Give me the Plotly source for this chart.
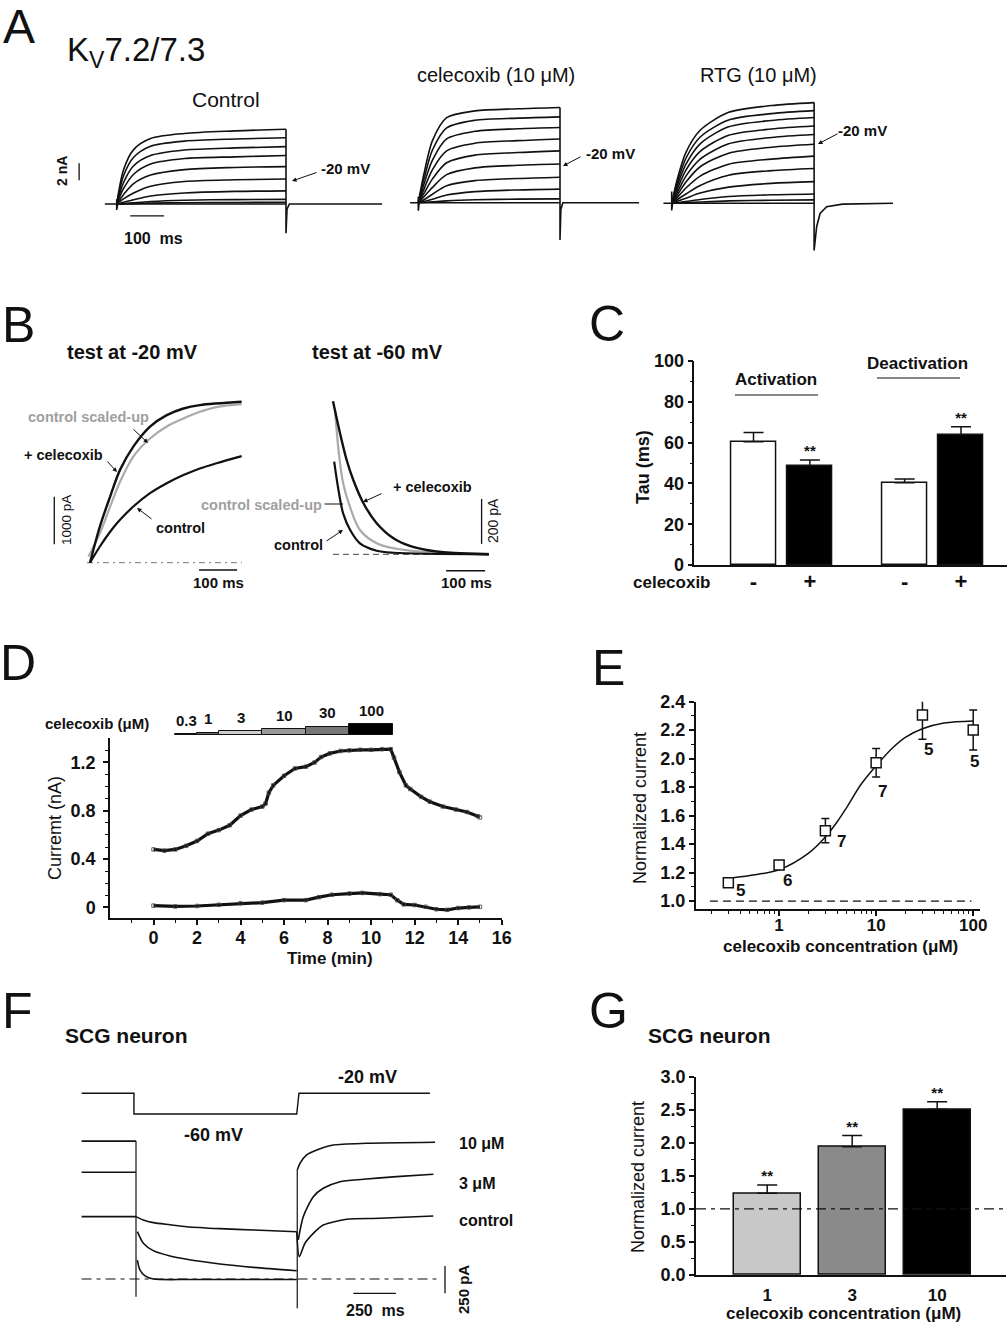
import math
import plotly.graph_objects as go

W, H = 1007, 1325
FONT = "Liberation Sans, Arial, Helvetica, sans-serif"
INK = "#111111"

# ---------------- A: Kv7.2/7.3 current families (nA vs ms) ----------------
A_T = [0, 20, 50, 100, 200, 350, 500]
A_CONTROL = [
    [0, 4.0, 6.4, 7.7, 8.3, 8.6, 8.8],
    [0, 3.3, 5.5, 6.8, 7.4, 7.65, 7.8],
    [0, 2.5, 4.5, 5.7, 6.35, 6.6, 6.75],
    [0, 1.8, 3.5, 4.7, 5.35, 5.55, 5.7],
    [0, 1.1, 2.4, 3.4, 4.05, 4.3, 4.4],
    [0, 0.6, 1.3, 2.1, 2.65, 2.85, 2.95],
    [0, 0.2, 0.5, 0.95, 1.3, 1.48, 1.55],
    [0, 0.05, 0.15, 0.3, 0.45, 0.52, 0.55],
    [0, 0.02, 0.05, 0.1, 0.15, 0.18, 0.2],
]
A_CELECOXIB = [
    [0, 3.4, 7.3, 10.0, 10.8, 11.05, 11.2],
    [0, 2.8, 6.2, 8.8, 9.7, 9.95, 10.1],
    [0, 2.2, 5.0, 7.5, 8.4, 8.7, 8.85],
    [0, 1.6, 3.9, 6.1, 7.0, 7.3, 7.5],
    [0, 1.1, 2.8, 4.7, 5.6, 5.9, 6.1],
    [0, 0.7, 1.8, 3.3, 4.1, 4.4, 4.55],
    [0, 0.35, 1.0, 2.0, 2.6, 2.85, 3.0],
    [0, 0.15, 0.4, 0.9, 1.3, 1.5, 1.6],
    [0, 0.03, 0.1, 0.22, 0.35, 0.42, 0.45],
]
A_RTG = [
    [0, 2.9, 6.0, 8.6, 10.7, 11.5, 11.85],
    [0, 2.5, 5.3, 7.8, 9.8, 10.55, 10.9],
    [0, 2.1, 4.6, 7.0, 9.0, 9.75, 10.1],
    [0, 1.7, 3.9, 6.1, 8.0, 8.75, 9.1],
    [0, 1.3, 3.2, 5.2, 7.0, 7.75, 8.1],
    [0, 1.0, 2.5, 4.3, 5.9, 6.6, 6.95],
    [0, 0.7, 1.8, 3.2, 4.6, 5.2, 5.55],
    [0, 0.45, 1.1, 2.1, 3.3, 3.85, 4.1],
    [0, 0.25, 0.6, 1.2, 1.9, 2.35, 2.55],
    [0, 0.08, 0.2, 0.45, 0.8, 1.0, 1.1],
    [0, 0.03, 0.07, 0.15, 0.28, 0.36, 0.4],
]
# holding level, on/off transients and step edge
A_CONTROL_BASE_T = [-35, 0, 0, 0, 3, 500, 500, 500, 503, 510, 784]
A_CONTROL_BASE_I = [0, 0, 0.55, -0.7, 0, 0, 8.8, -3.45, -0.6, 0, 0]
A_CELECOXIB_BASE_T = [-29, 0, 0, 0, 3, 500, 500, 500, 503, 510, 779]
A_CELECOXIB_BASE_I = [0, 0, 0.7, -0.95, 0, 0, 11.2, -4.4, -0.8, 0, 0]
A_RTG_BASE_T = [-29, 0, 0, 0, 3, 500, 500, 500, 509, 521, 544, 600, 777]
A_RTG_BASE_I = [0, 0, 1.4, -0.85, 0, 0, 11.85, -5.55, -2.75, -1.2, -0.4, -0.1, 0]

# ---------------- B: activation / deactivation (pA vs ms) ----------------
B_ACT_CEL_T = [0, 26, 53, 79, 114, 158, 202, 246, 289, 399]
B_ACT_CEL = [0, 760, 1390, 1950, 2440, 2860, 3100, 3240, 3310, 3380]
B_ACT_SCALED_T = [-4, 26, 53, 79, 114, 158, 202, 246, 289, 333, 399]
B_ACT_SCALED = [130, 620, 1180, 1700, 2230, 2610, 2860, 3030, 3170, 3270, 3330]
B_ACT_CTL_T = [0, 26, 53, 79, 114, 158, 202, 246, 289, 333, 399]
B_ACT_CTL = [0, 340, 650, 900, 1180, 1460, 1670, 1840, 1980, 2090, 2240]

B_DEACT_CEL_T = [0, 18, 35, 52, 78, 112, 155, 197, 240, 283, 400]
B_DEACT_CEL = [680, 538, 419, 330, 227, 138, 71, 37, 19, 9, 0]
B_DEACT_SCALED_T = [5, 16, 26, 42, 69, 116, 197, 400]
B_DEACT_SCALED = [641, 434, 316, 219, 108, 46, 16, 2]
B_DEACT_CTL_T = [3, 14, 26, 44, 69, 112, 155, 400]
B_DEACT_CTL = [412, 286, 182, 108, 49, 16, 7, 0]

# ---------------- C: time constants ----------------
C_POS = [1, 2, 3.68, 4.68]
C_TICKS = ["-", "+", "-", "+"]
C_TAU = [60.4, 48.7, 40.3, 63.9]
C_ERR = [4.5, 2.8, 1.8, 3.9]
C_STARS = ["", "**", "", "**"]

# ---------------- D: time course ----------------
D_T_UP = [0, 0.5, 1.0, 1.5, 2.0, 2.5, 3.0, 3.5, 4.0, 4.5, 5.0, 5.15, 5.3, 5.5, 6.0,
          6.5, 7.0, 7.4, 7.7, 8.1, 8.6, 9.0, 9.5, 10.0, 10.5, 10.9, 11.05, 11.3,
          11.6, 11.8, 12.3, 12.7, 13.3, 13.9, 14.4, 14.9, 15.0]
D_I_UP = [0.48, 0.47, 0.48, 0.51, 0.55, 0.61, 0.64, 0.68, 0.76, 0.81, 0.835, 0.86,
          0.95, 1.01, 1.09, 1.15, 1.165, 1.20, 1.245, 1.275, 1.295, 1.30, 1.305,
          1.305, 1.31, 1.31, 1.24, 1.12, 1.01, 0.98, 0.915, 0.875, 0.835, 0.81,
          0.79, 0.755, 0.745]
D_T_LO = [0, 1, 2, 3, 4, 5, 6, 7, 7.6, 8.2, 9, 9.6, 10.4, 10.9, 11.2, 11.5, 12,
          12.5, 13, 13.5, 14, 14.5, 15]
D_I_LO = [0.015, 0.008, 0.012, 0.022, 0.035, 0.04, 0.06, 0.06, 0.085, 0.105, 0.115,
          0.12, 0.11, 0.105, 0.06, 0.025, 0.02, 0.005, -0.015, -0.02, -0.005, 0.0, 0.005]
D_CONC = ["0.3", "1", "3", "10", "30", "100"]
D_CONC_START = [1, 2, 3, 5, 7, 9]
D_CONC_END = [2, 3, 5, 7, 9, 11]
D_CONC_LEVEL = [0.8, 2.3, 3.7, 5.7, 8.3, 11]
D_CONC_COLOR = ["white", "#666666", "#cccccc", "#999999", "#777777", "#000000"]

# ---------------- E: concentration-response ----------------
E_CONC = [0.3, 1, 3, 10, 30, 100]
E_MEAN = [1.128, 1.253, 1.494, 1.971, 2.306, 2.201]
E_ERR = [0.02, 0.012, 0.085, 0.1, 0.17, 0.14]
E_N = [5, 6, 7, 7, 5, 5]
E_FIT_C = [0.3, 0.5, 1, 2, 3, 4, 5, 7, 10, 15, 20, 30, 50, 100]
E_FIT_Y = [1.16, 1.18, 1.22, 1.335, 1.45, 1.56, 1.66, 1.82, 1.95, 2.08, 2.15, 2.21, 2.25, 2.265]

# ---------------- F: SCG neuron currents (pA vs ms) ----------------
F_PROT_T = [-318, -12, -12, 940, 953, 1719]
F_PROT_V = [-20, -20, -60, -60, -20, -20]
F_PRE_T = [-318, 0]
F10_PRE = [1265, 1265]
F3_PRE = [979, 979]
FC_PRE = [572, 572]
F10_STEP_T = [8, 23, 53, 101, 300, 600, 940]
F10_STEP = [174, 83, 28, 0, -5, -5, -5]
F3_STEP_T = [8, 43, 101, 199, 296, 491, 686, 940]
F3_STEP = [434, 328, 260, 211, 181, 138, 107, 76]
FC_STEP_T = [0, 43, 101, 199, 296, 491, 686, 940]
FC_STEP = [572, 541, 517, 498, 480, 462, 450, 434]
F10_POST_T = [943, 959, 998, 1057, 1154, 1349, 1749]
F10_POST = [1000, 1061, 1138, 1183, 1229, 1245, 1254]
F3_POST_T = [949, 978, 1037, 1095, 1193, 1329, 1524, 1739]
F3_POST = [358, 572, 755, 832, 893, 915, 939, 961]
FC_POST_T = [940, 955, 988, 1037, 1095, 1232, 1427, 1739]
FC_POST = [434, 205, 328, 419, 495, 548, 557, 578]
F_ON_T = [0, 0]
F_ON = [1265, -162]
F_OFF_T = [943, 943]
F_OFF = [-269, 1000]

# ---------------- G: SCG normalized current ----------------
G_POS = [1, 2, 3]
G_CONC = ["1", "3", "10"]
G_VAL = [1.235, 1.94, 2.507]
G_ERR = [0.125, 0.17, 0.115]
G_COLOR = ["#c8c8c8", "#8a8a8a", "#000000"]


def hx(px):
    return px / W


def hy(py):
    return 1 - py / H


def ref(n):
    return ("x", "y") if n == 1 else (f"x{n}", f"y{n}")


def cal(box, x_org, x_scale, y_org, y_scale):
    """pixel box + pixel calibration -> data ranges"""
    x0, y0, x1, y1 = box
    xr = [(x0 - x_org) / x_scale, (x1 - x_org) / x_scale]
    yr = [(y_org - y1) / y_scale, (y_org - y0) / y_scale]
    return xr, yr


layout = {}


def add_axes(n, box, xr, yr, xtype="linear"):
    x0, y0, x1, y1 = box
    xs = "xaxis" if n == 1 else f"xaxis{n}"
    ys = "yaxis" if n == 1 else f"yaxis{n}"
    xa, ya = ref(n)
    layout[xs] = dict(domain=[hx(x0), hx(x1)], range=xr, anchor=ya, visible=False,
                      type=xtype, showgrid=False, zeroline=False, fixedrange=True,
                      automargin=False)
    layout[ys] = dict(domain=[hy(y1), hy(y0)], range=yr, anchor=xa, visible=False,
                      showgrid=False, zeroline=False, fixedrange=True, automargin=False)
    return xs, ys


traces = []


def line(n, x, y, color=INK, width=1.6, shape="linear", dash=None, smoothing=0.9):
    xa, ya = ref(n)
    ln = dict(color=color, width=width, shape=shape)
    if dash:
        ln["dash"] = dash
    if shape == "spline":
        ln["smoothing"] = smoothing
    traces.append(go.Scatter(x=x, y=y, xaxis=xa, yaxis=ya, mode="lines", line=ln,
                             hoverinfo="skip"))


anns = []
shapes = []


def text(x, y, s, size=16, bold=False, color=INK, angle=0, anchor="center"):
    if bold:
        s = f"<b>{s}</b>"
    anns.append(dict(x=hx(x), y=hy(y), xref="paper", yref="paper", text=s,
                     showarrow=False, textangle=angle, xanchor=anchor, yanchor="middle",
                     font=dict(family=FONT, size=size, color=color)))


def arrow(x0, y0, x1, y1, head=2):
    anns.append(dict(x=hx(x1), y=hy(y1), xref="paper", yref="paper", ax=x0 - x1,
                     ay=y0 - y1, text="", showarrow=True, arrowhead=head, arrowsize=0.9,
                     arrowwidth=1, arrowcolor=INK, standoff=0, startstandoff=0))


def hline(x0, x1, y, width=1.2):
    shapes.append(dict(type="line", xref="paper", yref="paper", x0=hx(x0), x1=hx(x1),
                       y0=hy(y), y1=hy(y), line=dict(color=INK, width=width)))


# ======================= Panel A =======================
panels_a = [
    (1, (55, 105, 390, 245), (116.7, 0.3386, 204.0, 8.5), A_CONTROL,
     A_CONTROL_BASE_T, A_CONTROL_BASE_I),
    (2, (400, 95, 645, 255), (418.3, 0.2834, 202.7, 8.5), A_CELECOXIB,
     A_CELECOXIB_BASE_T, A_CELECOXIB_BASE_I),
    (3, (655, 95, 905, 260), (671.7, 0.2848, 203.3, 8.5), A_RTG,
     A_RTG_BASE_T, A_RTG_BASE_I),
]
for n, box, c, fam, bt, bi in panels_a:
    xr, yr = cal(box, *c)
    add_axes(n, box, xr, yr)
    line(n, bt, bi, width=1.6)
    for tr in fam:
        line(n, A_T, tr, width=1.6, shape="spline", smoothing=0.8)

# scale bars (control panel)
line(1, [-111, -111], [2.8, 4.8], width=1.3)
line(1, [40, 140], [-1.4, -1.4], width=1.3)

text(19, 27, "A", size=48)
text(136, 52, "K<sub>V</sub>7.2/7.3", size=33)
text(226, 100, "Control", size=21)
text(496, 75, "celecoxib (10 μM)", size=20)
text(758, 75, "RTG (10 μM)", size=20)
text(62, 171, "2 nA", size=14, bold=True, angle=-90)
text(153, 239, "100  ms", size=16, bold=True)
text(345, 168, "-20 mV", size=15, bold=True)
arrow(318, 172, 292, 181)
text(610, 153, "-20 mV", size=15, bold=True)
arrow(582, 156, 563, 166)
text(862, 131, "-20 mV", size=15, bold=True)
arrow(839, 133, 818, 144)

# ======================= Panel B =======================
box = (20, 390, 250, 600)
xr, yr = cal(box, 90, 0.38, 562.7, 0.0476)
add_axes(4, box, xr, yr)
line(4, [-8, 400], [0, 0], color="#777777", width=1, dash="6px,4px,2px,4px")
line(4, B_ACT_SCALED_T, B_ACT_SCALED, color="#aaaaaa", width=2.2, shape="spline")
line(4, B_ACT_CTL_T, B_ACT_CTL, width=2.2, shape="spline")
line(4, B_ACT_CEL_T, B_ACT_CEL, width=2.4, shape="spline")
line(4, [-94, -94], [387, 1387], width=1.3)
line(4, [287, 387], [-153, -153], width=1.3)

box = (315, 390, 500, 600)
xr, yr = cal(box, 333, 0.39, 554.3, 0.225)
add_axes(5, box, xr, yr)
line(5, [0, 400], [0, 0], color="#444444", width=1, dash="6px,4px")
line(5, B_DEACT_SCALED_T, B_DEACT_SCALED, color="#aaaaaa", width=2.2, shape="spline")
line(5, B_DEACT_CTL_T, B_DEACT_CTL, width=2.2, shape="spline")
line(5, B_DEACT_CEL_T, B_DEACT_CEL, width=2.4, shape="spline")
line(5, [381, 381], [46, 246], width=1.3)
line(5, [290, 390], [-73, -73], width=1.3)

text(18, 325, "B", size=50)
text(132, 352, "test at -20 mV", size=20, bold=True)
text(377, 352, "test at -60 mV", size=20, bold=True)
text(88, 417, "control scaled-up", size=14.5, bold=True, color="#a0a0a0")
arrow(132, 428, 148, 443)
text(63, 455, "+ celecoxib", size=14.5, bold=True)
arrow(106, 460, 117, 472)
text(180, 528, "control", size=14.5, bold=True)
arrow(153, 520, 137, 508)
text(66, 520, "1000 pA", size=13.5, angle=-90)
text(218, 583, "100 ms", size=15, bold=True)
text(432, 487, "+ celecoxib", size=14.5, bold=True)
arrow(383, 493, 363, 502)
text(261, 505, "control scaled-up", size=14.5, bold=True, color="#a0a0a0")
arrow(323, 504, 343, 504, head=0)
text(298, 545, "control", size=14.5, bold=True)
arrow(325, 542, 343, 530)
text(493, 521, "200 pA", size=14, angle=-90)
text(466, 583, "100 ms", size=15, bold=True)

# ======================= common axis style =======================
def shown_axis(**kw):
    d = dict(visible=True, showline=True, linecolor=INK, linewidth=1.5, ticks="outside",
             ticklen=5, tickwidth=1.5, tickcolor=INK, showgrid=False, zeroline=False,
             tickfont=dict(family=FONT, size=18, color=INK, weight="bold"))
    d.update(kw)
    return d


# ======================= Panel C =======================
box = (694.3, 361, 1006.7, 565)
xs, ys = add_axes(6, box, [-0.05, 5.49], [0, 100])
layout[xs].update(shown_axis(ticks="", tickvals=C_POS, ticktext=C_TICKS, ticklabelstandoff=-4,
                             tickfont=dict(family=FONT, size=22, color=INK, weight="bold")))
layout[ys].update(shown_axis(tickvals=[0, 20, 40, 60, 80, 100],
                             minor=dict(ticks="outside", ticklen=3, tickwidth=1.2,
                                        tickcolor=INK, tickvals=[10, 30, 50, 70, 90])))
traces.append(go.Bar(x=C_POS, y=C_TAU, xaxis="x6", yaxis="y6", width=0.8,
                     marker=dict(color=["white", "black", "white", "black"],
                                 line=dict(color=INK, width=1.5)),
                     error_y=dict(type="data", symmetric=False, array=C_ERR,
                                  arrayminus=[0, 0, 0, 0], color=INK, thickness=1.5, width=10),
                     hoverinfo="skip"))
traces.append(go.Scatter(x=C_POS, y=[t + e for t, e in zip(C_TAU, C_ERR)], xaxis="x6",
                         yaxis="y6", mode="text", text=C_STARS, textposition="top center",
                         textfont=dict(family=FONT, size=15, color=INK, weight="bold"),
                         hoverinfo="skip"))
text(607, 324, "C", size=50)
text(643, 467, "Tau (ms)", size=18, bold=True, angle=-90)
text(672, 582, "celecoxib", size=17, bold=True)
text(776, 380, "Activation", size=17, bold=True)
hline(735, 818, 395)
text(917, 363, "Deactivation", size=17, bold=True)
hline(877, 960, 378)

# ======================= Panel D =======================
box = (110, 738.3, 501.7, 918.3)
xs, ys = add_axes(7, box, [-2, 16], [-0.09, 1.40])
layout[xs].update(shown_axis(tickvals=list(range(0, 17, 2)), ticklabelstandoff=-3,
                             minor=dict(ticks="outside", ticklen=3, tickwidth=1.2,
                                        tickcolor=INK, tickvals=list(range(-1, 16, 2)))))
layout[ys].update(shown_axis(tickvals=[0, 0.4, 0.8, 1.2], ticktext=["0", "0.4", "0.8", "1.2"],
                             ticklabelstandoff=4,
                             minor=dict(ticks="outside", ticklen=3, tickwidth=1.2, tickcolor=INK,
                                        tickvals=[0.1, 0.2, 0.3, 0.5, 0.6, 0.7, 0.9, 1.0, 1.1, 1.3])))
for tx, iy in ((D_T_UP, D_I_UP), (D_T_LO, D_I_LO)):
    traces.append(go.Scatter(x=tx, y=iy, xaxis="x7", yaxis="y7", mode="lines+markers",
                             line=dict(color=INK, width=3.2),
                             marker=dict(symbol="square-open", size=3.5, color="#444444",
                                         line=dict(width=0.8)),
                             hoverinfo="skip"))
box = (110, 700, 501.7, 735)
add_axes(8, box, [-2, 16], [0, 35])
centers = [(s + e) / 2 for s, e in zip(D_CONC_START, D_CONC_END)]
widths = [e - s for s, e in zip(D_CONC_START, D_CONC_END)]
traces.append(go.Bar(x=centers, y=D_CONC_LEVEL, width=widths, xaxis="x8", yaxis="y8",
                     marker=dict(color=D_CONC_COLOR, line=dict(color=INK, width=1)),
                     hoverinfo="skip"))
for cx, lv, lab in zip(centers, D_CONC_LEVEL, D_CONC):
    anns.append(dict(x=cx, y=lv, xref="x8", yref="y8", text=f"<b>{lab}</b>",
                     showarrow=False, yanchor="middle", yshift=14,
                     font=dict(family=FONT, size=15, color=INK)))
text(18, 663, "D", size=50)
text(97, 723, "celecoxib (μM)", size=15, bold=True)
text(330, 958, "Time (min)", size=17, bold=True)
text(55, 828, "Curremt (nA)", size=18, angle=-90)

# ======================= Panel E =======================
box = (695.7, 701.7, 980, 909.3)
xs, ys = add_axes(9, box, [-0.859, 2.07], [0.942, 2.4], xtype="log")
minor_log = [0.2, 0.3, 0.4, 0.5, 0.6, 0.7, 0.8, 0.9] + list(range(2, 10)) + list(range(20, 100, 10))
layout[xs].update(shown_axis(tickvals=[1, 10, 100], ticktext=["1", "10", "100"],
                             ticklabelstandoff=-5,
                             tickfont=dict(family=FONT, size=17, color=INK, weight="bold"),
                             minor=dict(ticks="outside", ticklen=3, tickwidth=1.2,
                                        tickcolor=INK, tickvals=minor_log)))
layout[ys].update(shown_axis(tickvals=[1.0, 1.2, 1.4, 1.6, 1.8, 2.0, 2.2, 2.4], tickformat=".1f",
                             minor=dict(ticks="outside", ticklen=3, tickwidth=1.2, tickcolor=INK,
                                        tickvals=[1.1, 1.3, 1.5, 1.7, 1.9, 2.1, 2.3])))
shapes.append(dict(type="line", xref="x9 domain", yref="y9", x0=0.05, x1=0.97, y0=1.0, y1=1.0,
                   line=dict(color=INK, width=1.2, dash="8px,5px")))
traces.append(go.Scatter(x=E_FIT_C, y=E_FIT_Y, xaxis="x9", yaxis="y9", mode="lines",
                         line=dict(color=INK, width=1.5, shape="spline"), hoverinfo="skip"))
traces.append(go.Scatter(x=E_CONC, y=E_MEAN, xaxis="x9", yaxis="y9", mode="markers",
                         marker=dict(symbol="square", size=10, color="white",
                                     line=dict(color=INK, width=1.5)),
                         error_y=dict(type="data", array=E_ERR, color=INK, thickness=1.5, width=4),
                         hoverinfo="skip"))
E_SHIFT = [(12, -8), (8, -15), (16, -11), (6, -29), (6, -34), (1, -31)]
for c, m, nn, (dx, dy) in zip(E_CONC, E_MEAN, E_N, E_SHIFT):
    anns.append(dict(x=math.log10(c), y=m, xref="x9", yref="y9", text=f"<b>{nn}</b>",
                     showarrow=False, xshift=dx, yshift=dy,
                     font=dict(family=FONT, size=17, color=INK)))
text(608, 668, "E", size=50)
text(640, 808, "Normalized current", size=18, angle=-90)
text(840, 946, "celecoxib concentration (μM)", size=17, bold=True)

# ======================= Panel F =======================
box = (75, 1125, 455, 1315)
xr, yr = cal(box, 136, 0.171, 1279, 0.109)
add_axes(10, box, xr, yr)
line(10, [-318, 1757], [0, 0], width=1.2, dash="10px,5px,4px,5px")
for pre, st_t, st, po_t, po in ((F10_PRE, F10_STEP_T, F10_STEP, F10_POST_T, F10_POST),
                                (F3_PRE, F3_STEP_T, F3_STEP, F3_POST_T, F3_POST),
                                (FC_PRE, FC_STEP_T, FC_STEP, FC_POST_T, FC_POST)):
    line(10, F_PRE_T, pre, width=1.6)
    line(10, st_t, st, width=1.6, shape="spline", smoothing=0.7)
    line(10, po_t, po, width=1.6, shape="spline", smoothing=0.7)
line(10, F_ON_T, F_ON, width=1.2)
line(10, F_OFF_T, F_OFF, width=1.2)
line(10, [1807, 1807], [-131, 119], width=1.3)
line(10, [1271, 1520], [-131, -131], width=1.3)

box = (75, 1080, 455, 1120)
xr, yr = cal(box, 136, 0.171, 1082.95, 0.5175)
add_axes(11, box, xr, yr)
line(11, F_PROT_T, F_PROT_V, width=1.4)

text(17, 1011, "F", size=50)
text(126, 1035, "SCG neuron", size=21, bold=True)
text(367, 1077, "-20 mV", size=18, bold=True)
text(213, 1135, "-60 mV", size=18, bold=True)
text(457, 1143, "10 μM", size=16, bold=True, anchor="left")
text(457, 1183, "3 μM", size=16, bold=True, anchor="left")
text(457, 1220, "control", size=16, bold=True, anchor="left")
text(375, 1310, "250  ms", size=16, bold=True)
text(463, 1290, "250 pA", size=15, bold=True, angle=-90)

# ======================= Panel G =======================
box = (696, 1076.7, 1006, 1275)
xs, ys = add_axes(12, box, [0.162, 3.81], [0, 3])
layout[xs].update(shown_axis(ticks="", tickvals=G_POS, ticktext=G_CONC, ticklabelstandoff=4,
                             tickfont=dict(family=FONT, size=17, color=INK, weight="bold")))
layout[ys].update(shown_axis(tickvals=[0, 0.5, 1.0, 1.5, 2.0, 2.5, 3.0], tickformat=".1f",
                             minor=dict(ticks="outside", ticklen=3, tickwidth=1.2, tickcolor=INK,
                                        tickvals=[0.25, 0.75, 1.25, 1.75, 2.25, 2.75])))
traces.append(go.Bar(x=G_POS, y=G_VAL, xaxis="x12", yaxis="y12", width=0.79,
                     marker=dict(color=G_COLOR, line=dict(color=INK, width=1.5)),
                     error_y=dict(type="data", symmetric=False, array=G_ERR,
                                  arrayminus=[0, 0, 0], color=INK, thickness=1.5, width=10),
                     hoverinfo="skip"))
traces.append(go.Scatter(x=G_POS, y=[v + e for v, e in zip(G_VAL, G_ERR)], xaxis="x12",
                         yaxis="y12", mode="text", text=["**"] * 3, textposition="top center",
                         textfont=dict(family=FONT, size=15, color=INK, weight="bold"),
                         hoverinfo="skip"))
shapes.append(dict(type="line", xref="x12 domain", yref="y12", x0=0, x1=1, y0=1.0, y1=1.0,
                   line=dict(color=INK, width=1.2, dash="10px,5px,4px,5px")))
text(608, 1011, "G", size=50)
text(709, 1035, "SCG neuron", size=21, bold=True)
text(638, 1177, "Normalized current", size=18, angle=-90)
text(843, 1313, "celecoxib concentration (μM)", size=17, bold=True)

fig = go.Figure(data=traces)
fig.update_layout(**layout)
fig.update_layout(width=W, height=H,
                  margin=dict(l=0, r=0, t=0, b=0, pad=0, autoexpand=False),
                  paper_bgcolor="white", plot_bgcolor="white", showlegend=False,
                  font=dict(family=FONT, color=INK), annotations=anns, shapes=shapes,
                  bargap=0)
# page body margin would offset the 1:1 pixel layout
fig.write_html("out.html", config={"displayModeBar": False},
               post_script="document.body.style.margin='0px';")
